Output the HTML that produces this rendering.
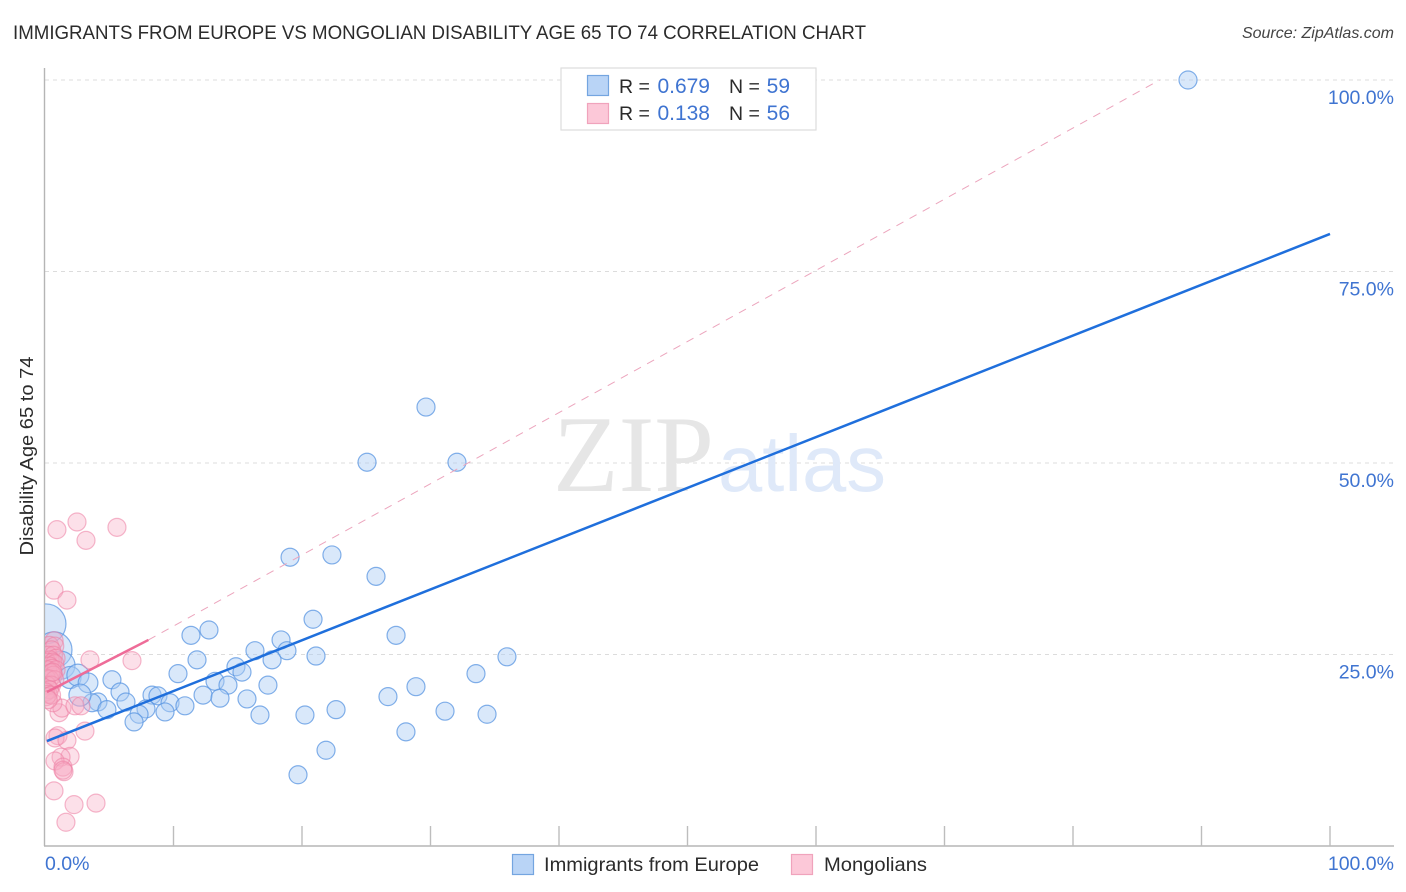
<!DOCTYPE html>
<html lang="en">
<head>
<meta charset="utf-8">
<title>Immigrants from Europe vs Mongolian Disability Age 65 to 74 Correlation Chart</title>
<style>
html,body{margin:0;padding:0;background:#fff;}
svg{display:block;font-family:"Liberation Sans",sans-serif;}
</style>
</head>
<body>
<svg id="chart" width="1406" height="892" viewBox="0 0 1406 892" xmlns="http://www.w3.org/2000/svg">
  <defs>
    <clipPath id="plot-clip"><rect x="45" y="60" width="1349" height="786"/></clipPath>
  </defs>
  <text x="13" y="39" font-size="19.5" fill="#2b2b2b" textLength="853" lengthAdjust="spacingAndGlyphs">IMMIGRANTS FROM EUROPE VS MONGOLIAN DISABILITY AGE 65 TO 74 CORRELATION CHART</text>
  <text x="1394" y="38" font-size="16" font-style="italic" fill="#444" text-anchor="end">Source: ZipAtlas.com</text>
  <g id="grid"></g>
  <g>
    <text x="553" y="491" font-family="'Liberation Serif',serif" font-size="109" fill="#e6e6e6" textLength="161" lengthAdjust="spacingAndGlyphs">ZIP</text>
    <text x="718" y="491" font-size="80" fill="#dfe9f9" textLength="168" lengthAdjust="spacingAndGlyphs">atlas</text>
  </g>
  <g id="axes"></g>
  <g id="marks" clip-path="url(#plot-clip)"></g>
  <g id="lines"></g>
  <g id="tick-labels"></g>
  <text transform="translate(33,456) rotate(-90)" font-size="18" fill="#2b2b2b" text-anchor="middle" textLength="199" lengthAdjust="spacingAndGlyphs">Disability Age 65 to 74</text>

  <g>
    <rect x="561" y="68" width="255" height="62" fill="#fff" stroke="#dddddd" stroke-width="1.2"/>
    <rect x="587.5" y="75.5" width="21" height="20" fill="#b9d4f6" stroke="#74a5e0" stroke-width="1.2"/>
    <rect x="587.5" y="103.5" width="21" height="20" fill="#fcc8d8" stroke="#f0a3bc" stroke-width="1.2"/>
    <text x="619" y="93" font-size="19.5" fill="#2b2b2b">R =</text>
    <text x="710" y="93" font-size="21" fill="#3f74d1" text-anchor="end">0.679</text>
    <text x="729" y="93" font-size="19.5" fill="#2b2b2b">N =</text>
    <text x="790" y="93" font-size="21" fill="#3f74d1" text-anchor="end">59</text>
    <text x="619" y="120" font-size="19.5" fill="#2b2b2b">R =</text>
    <text x="710" y="120" font-size="21" fill="#3f74d1" text-anchor="end">0.138</text>
    <text x="729" y="120" font-size="19.5" fill="#2b2b2b">N =</text>
    <text x="790" y="120" font-size="21" fill="#3f74d1" text-anchor="end">56</text>
  </g>

  <g>
    <rect x="512.5" y="854.5" width="21" height="20" fill="#b9d4f6" stroke="#74a5e0" stroke-width="1.2"/>
    <text x="544" y="871" font-size="19.5" fill="#2b2b2b" textLength="215" lengthAdjust="spacingAndGlyphs">Immigrants from Europe</text>
    <rect x="791.5" y="854.5" width="21" height="20" fill="#fcc8d8" stroke="#f0a3bc" stroke-width="1.2"/>
    <text x="824" y="871" font-size="19.5" fill="#2b2b2b" textLength="103" lengthAdjust="spacingAndGlyphs">Mongolians</text>
  </g>
</svg>
<script>
// Tick values and labels
const xTickValues = [0, 10, 20, 30, 40, 50, 60, 70, 80, 90, 100];
const yTickValues = [25, 50, 75, 100];
const yTickLabels = ["25.0%", "50.0%", "75.0%", "100.0%"];
const xEdgeValues = [0, 100];
const xEdgeLabels = ["0.0%", "100.0%"];

// Immigrants from Europe (x %, y %, relative sample weight)
const europeX = [88.95,29.65,25.06,32.06,22.33,19.07,25.76,20.86,12.76,11.36,27.32,18.37,16.34,18.83,21.09,17.67,11.83,35.95,14.86,15.33,10.35,33.54,5.21,13.23,14.24,17.35,28.87,5.84,8.33,8.79,12.3,13.62,15.72,26.69,4.12,3.66,6.3,9.73,10.89,4.82,7.86,7.32,9.34,6.93,22.65,20.23,16.73,31.13,34.4,28.09,21.87,19.69,0.08,0.7,1.25,1.95,2.56,3.35,2.72];
const europeY = [100,57.3,50.1,50.1,38,37.7,35.2,29.6,28.2,27.5,27.5,26.9,25.5,25.5,24.8,24.3,24.3,24.7,23.4,22.7,22.5,22.5,21.7,21.5,21,21,20.8,20.1,19.7,19.6,19.7,19.3,19.2,19.5,18.8,18.7,18.8,18.7,18.3,17.8,17.9,17.2,17.5,16.2,17.8,17.1,17.1,17.6,17.2,14.9,12.5,9.3,29,25.6,23.6,22,22.3,21.3,19.7];
const europeWeight = [1,1,1,1,1,1,1,1,1,1,1,1,1,1,1,1,1,1,1,1,1,1,1,1,1,1,1,1,1,1,1,1,1,1,1,1,1,1,1,1,1,1,1,1,1,1,1,1,1,1,1,1,4.9,4,2.4,1.5,1.5,1.2,1.5];

// Mongolians (x %, y %)
const mongolX = [2.49,0.93,5.6,3.19,0.7,1.71,3.5,6.77,0.7,2.26,3.97,1.63,1.01,0.78,1.71,3.11,1.95,1.25,0.78,1.4,1.48,1.4,1.09,1.32,0.62,2.33,2.8,0.71,0.35,0.76,0.51,0.25,0.66,0.86,0.4,0.15,0.6,0.76,0.35,0.56,0.2,0.86,0.46,0.66,0.1,0.35,0.76,0.15,0.51,0.35,0.05,0.25,0.1,0.51,0.25,0.6];
const mongolY = [42.3,41.3,41.6,39.9,33.4,32.1,24.3,24.2,7.2,5.4,5.6,3.1,14.4,14.1,13.8,15,11.7,11.6,11.1,10.3,9.7,9.9,17.4,18,18.7,18.3,18.3,26.8,26.2,26.1,25.6,24.9,24.9,24.5,24.3,24,24,23.8,23.5,23.2,23,23,22.6,22.3,21.9,21.8,21.7,21,21,20.4,20.1,19.8,19.5,19.7,19.1,22.7];

// Trend lines (x %, y %)
const europeTrendX = [0.15, 100];
const europeTrendY = [13.7, 79.9];
const mongolTrendX = [0.15, 8.05];
const mongolTrendY = [20.1, 26.9];
const mongolDashX = [8.05, 86.75];
const mongolDashY = [26.9, 100];

const SVGNS = "http://www.w3.org/2000/svg";
function xScale(v){ return 45 + v * 12.85; }
function yScale(v){ return 846 - v * 7.66; }
function rScale(w){ return 9 * Math.sqrt(w); }
function make(tag, attrs, parent){
  const el = document.createElementNS(SVGNS, tag);
  for (const k in attrs) el.setAttribute(k, attrs[k]);
  parent.appendChild(el);
  return el;
}

const gridG = document.getElementById("grid");
const axesG = document.getElementById("axes");
const marksG = document.getElementById("marks");
const linesG = document.getElementById("lines");
const labelsG = document.getElementById("tick-labels");

yTickValues.forEach(function(v){
  const g = make("line", {x1:45, x2:1394, y1:yScale(v), y2:yScale(v), stroke:"#dcdcdc", "stroke-width":1, "stroke-dasharray":"4 4"}, gridG);
  
  
});

const yAxis = make("line", {x1:44.5, x2:44.5, y1:68, y2:846, stroke:"#b5b5b5", "stroke-width":1.4}, axesG);


const xAxis = make("line", {x1:44, x2:1394, y1:846, y2:846, stroke:"#b5b5b5", "stroke-width":1.4}, axesG);


xTickValues.slice(1).forEach(function(v){
  const t = make("line", {x1:xScale(v), x2:xScale(v), y1:826, y2:846, stroke:"#bdbdbd", "stroke-width":1.4}, axesG);
  
  
});

const dash = make("line", {x1:xScale(mongolDashX[0]), y1:yScale(mongolDashY[0]), x2:xScale(mongolDashX[1]), y2:yScale(mongolDashY[1]), stroke:"#eca5bd", "stroke-width":1, "stroke-dasharray":"8 7"}, linesG);



europeX.forEach(function(x, i){
  const c = make("circle", {cx:xScale(x), cy:yScale(europeY[i]), r:rScale(europeWeight[i]), fill:"rgba(170,204,245,0.45)", stroke:"rgba(90,150,225,0.75)", "stroke-width":1.2}, marksG);
  
  
});
mongolX.forEach(function(x, i){
  const c = make("circle", {cx:xScale(x), cy:yScale(mongolY[i]), r:9, fill:"rgba(248,170,195,0.36)", stroke:"rgba(236,125,163,0.55)", "stroke-width":1.2}, marksG);
  
  
});

const eLine = make("line", {x1:xScale(europeTrendX[0]), y1:yScale(europeTrendY[0]), x2:xScale(europeTrendX[1]), y2:yScale(europeTrendY[1]), stroke:"#1f6fdc", "stroke-width":2.5}, linesG);


const mLine = make("line", {x1:xScale(mongolTrendX[0]), y1:yScale(mongolTrendY[0]), x2:xScale(mongolTrendX[1]), y2:yScale(mongolTrendY[1]), stroke:"#ee6c98", "stroke-width":2.5}, linesG);



yTickValues.forEach(function(v, i){
  const t = make("text", {x:1394, y:yScale(v) + 24, "font-size":19.5, fill:"#3f74d1", "text-anchor":"end"}, labelsG);
  
  
  t.textContent = yTickLabels[i];
});
xEdgeValues.forEach(function(v, i){
  const t = make("text", {x: i === 0 ? xScale(v) : 1394, y:870, "font-size":19.5, fill:"#3f74d1", "text-anchor": i === 0 ? "start" : "end"}, labelsG);
  
  
  t.textContent = xEdgeLabels[i];
});
</script>
</body>
</html>
